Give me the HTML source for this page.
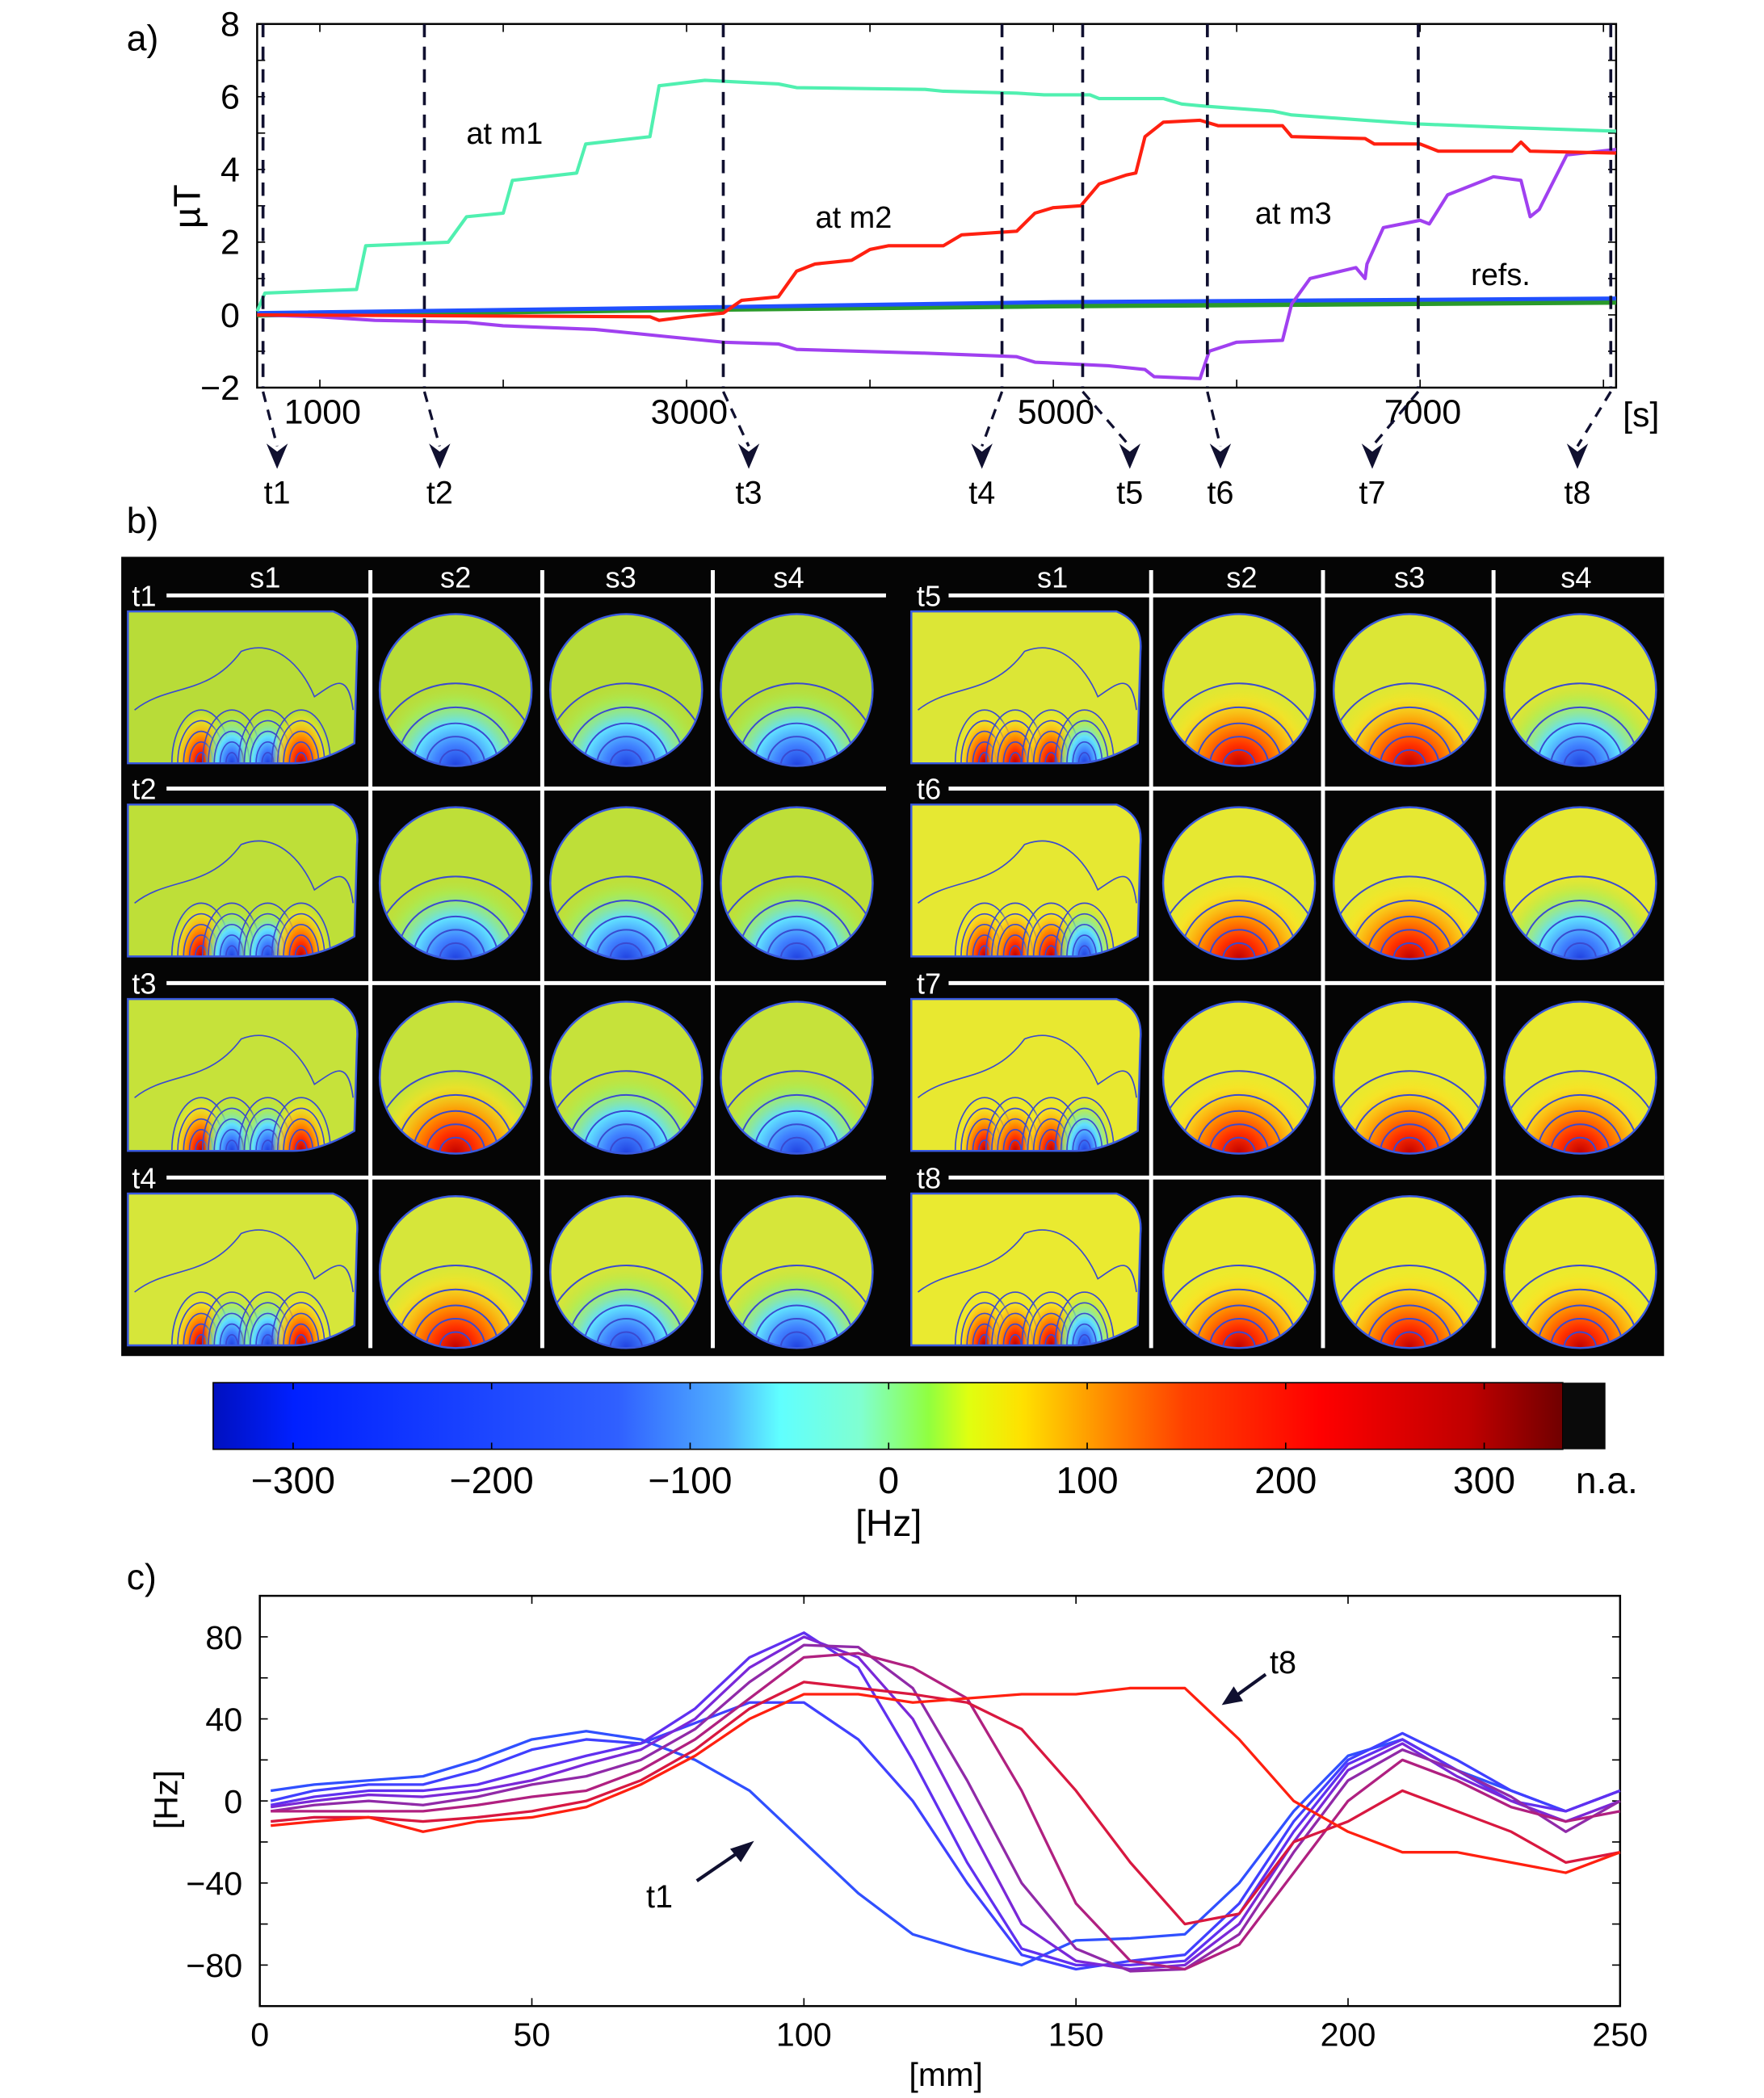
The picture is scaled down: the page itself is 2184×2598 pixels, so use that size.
<!DOCTYPE html>
<html><head><meta charset="utf-8"><style>
html,body{margin:0;padding:0;background:#fff;}
svg{display:block;font-family:"Liberation Sans",sans-serif;}
</style></head><body>
<svg id="fig" width="2184" height="2598" viewBox="0 0 1324 1575" xmlns="http://www.w3.org/2000/svg">
<defs>
<linearGradient id="cbar" x1="0" x2="1" y1="0" y2="0">
<stop offset="0" stop-color="#0010c0"/><stop offset="0.06" stop-color="#0020ff"/><stop offset="0.3" stop-color="#3060ff"/>
<stop offset="0.38" stop-color="#50b0ff"/><stop offset="0.42" stop-color="#60ffff"/><stop offset="0.48" stop-color="#80ffd0"/>
<stop offset="0.53" stop-color="#90ff40"/><stop offset="0.56" stop-color="#e0ff10"/><stop offset="0.6" stop-color="#ffe000"/>
<stop offset="0.67" stop-color="#ff8000"/><stop offset="0.72" stop-color="#ff4000"/><stop offset="0.82" stop-color="#ff0000"/>
<stop offset="0.93" stop-color="#c00000"/><stop offset="1" stop-color="#700000"/></linearGradient>
<radialGradient id="blueBlob" cx="0.5" cy="0.5" r="0.5"><stop offset="0" stop-color="#2040e0"/><stop offset="0.25" stop-color="#4080ff"/><stop offset="0.5" stop-color="#60e0ff"/><stop offset="0.8" stop-color="#a0f060" stop-opacity="0.6"/><stop offset="1" stop-color="#c0e040" stop-opacity="0"/></radialGradient>
<radialGradient id="redBlob" cx="0.5" cy="0.5" r="0.5"><stop offset="0" stop-color="#c00000"/><stop offset="0.25" stop-color="#ff3000"/><stop offset="0.5" stop-color="#ff9000"/><stop offset="0.8" stop-color="#ffe020" stop-opacity="0.6"/><stop offset="1" stop-color="#f0f020" stop-opacity="0"/></radialGradient>
</defs>
<g id="panelA"></g>
<g id="panelB"></g>
<g id="panelC"></g>
</svg>
<script>
// ---------- Panel a data ----------
const m1T=[658,700,1200,1250,1700,1800,2000,2050,2400,2450,2800,2850,3100,3500,3600,4300,4400,4800,4950,5200,5250,5600,5700,5800,6200,6300,6700,7000,7500,8069];
const m1V=[0.1,0.6,0.7,1.9,2.0,2.7,2.8,3.7,3.9,4.7,4.9,6.3,6.45,6.35,6.25,6.2,6.15,6.1,6.05,6.05,5.95,5.95,5.8,5.75,5.6,5.5,5.35,5.25,5.15,5.05];
const m2T=[658,2800,2850,3000,3200,3300,3500,3600,3700,3900,4000,4100,4400,4500,4800,4900,5000,5150,5250,5400,5450,5500,5600,5800,5900,6250,6300,6700,6750,7000,7100,7500,7550,7600,8069];
const m2V=[0,-0.05,-0.15,-0.05,0.05,0.4,0.5,1.2,1.4,1.5,1.8,1.9,1.9,2.2,2.3,2.8,2.95,3.0,3.6,3.85,3.9,4.9,5.3,5.35,5.2,5.2,4.9,4.85,4.7,4.7,4.5,4.5,4.75,4.5,4.45];
const m3T=[658,1000,1300,1800,2000,2500,2900,3200,3500,3600,4300,4800,4900,5300,5500,5550,5800,5850,6000,6250,6300,6400,6650,6700,6710,6800,7000,7050,7150,7400,7550,7600,7650,7800,8069];
const m3V=[0,-0.05,-0.15,-0.2,-0.3,-0.4,-0.6,-0.75,-0.8,-0.95,-1.05,-1.15,-1.3,-1.4,-1.5,-1.7,-1.75,-1.0,-0.75,-0.7,0.3,1.0,1.3,1.0,1.4,2.4,2.6,2.5,3.3,3.8,3.7,2.7,2.9,4.4,4.55];
const refBT=[658,3000,5000,8069];
const refBV=[0.05,0.2,0.35,0.45];
const refGT=[658,3000,5000,8069];
const refGV=[0.0,0.15,0.25,0.35];
const markTimes=[690,1570,3200,4720,5160,5840,6990,8040];
const markLabels=["t1","t2","t3","t4","t5","t6","t7","t8"];
const arrowX=[208,330,562,737,848,916,1030,1184];
const aYTicks=[-2,0,2,4,6,8];
const aXTicks=[1000,3000,5000,7000];
// ---------- Panel c data ----------
const cX=[2,10,20,30,40,50,60,70,80,90,100,110,120,130,140,150,160,170,180,190,200,210,220,230,240,250];
const cSeries=[
[5,8,10,12,20,30,34,30,20,5,-20,-45,-65,-73,-80,-68,-67,-65,-40,-5,22,30,15,5,-5,5],
[0,5,8,8,15,25,30,28,38,48,48,30,0,-40,-75,-82,-78,-75,-50,-10,20,33,20,5,-5,5],
[-2,2,5,5,8,15,22,28,45,70,82,65,20,-30,-72,-80,-80,-78,-55,-15,18,30,15,0,-5,5],
[-3,0,3,2,5,10,18,25,40,65,80,70,40,-10,-60,-78,-82,-80,-60,-20,15,28,12,0,-10,0],
[-5,-2,0,-2,2,8,12,20,35,58,76,75,55,10,-40,-72,-83,-82,-65,-25,10,25,15,2,-15,0],
[-5,-5,-5,-5,-2,2,5,15,30,50,70,72,65,50,5,-50,-78,-82,-70,-35,0,20,10,-3,-10,-5],
[-10,-8,-8,-10,-8,-5,0,10,25,45,58,55,52,48,35,5,-30,-60,-55,-20,-10,5,-5,-15,-30,-25],
[-12,-10,-8,-15,-10,-8,-3,8,22,40,52,52,48,50,52,52,55,55,30,0,-15,-25,-25,-30,-35,-25]];
const cColors=["#3050ff","#4040ff","#6030f0","#7a28d8","#902aa8","#b02080","#d81840","#ff2010"];
const cYTicks=[-80,-40,0,40,80];
const cXTicks=[0,50,100,150,200,250];
const cbTicks=[-300,-200,-100,0,100,200,300];

const NS="http://www.w3.org/2000/svg";
function mk(parent,tag,attrs,text){const e=document.createElementNS(NS,tag);for(const k in attrs)e.setAttribute(k,attrs[k]);if(text!==undefined)e.textContent=text;parent.appendChild(e);return e;}

// ===== Panel a =====
const A=document.getElementById('panelA');
const aL=193,aR=1213,aT=18,aB=291,t0=658,t1=8069;
function xa(t){return aL+(t-t0)/(t1-t0)*(aR-aL);}
function ya(v){return aB-(v+2)/10*(aB-aT);}
let e;
e=mk(A,'text',{x:95,y:38,'font-size':27},'a)');


e=mk(A,'rect',{x:aL,y:aT,width:aR-aL,height:aB-aT,fill:'none',stroke:'#000','stroke-width':1.5});


for(let v=-2;v<=8;v++){
  mk(A,'line',{x1:aL,x2:aL+6,y1:ya(v),y2:ya(v),stroke:'#000'});
  mk(A,'line',{x1:aR,x2:aR-6,y1:ya(v),y2:ya(v),stroke:'#000'});
}
aYTicks.forEach(v=>{e=mk(A,'text',{x:180,y:ya(v)+9,'font-size':26,'text-anchor':'end'},v<0?'\u2212'+(-v):String(v));

});
for(let t=1000;t<=8000;t+=1000){mk(A,'line',{x1:xa(t),x2:xa(t),y1:aB,y2:aB-6,stroke:'#000'});mk(A,'line',{x1:xa(t),x2:xa(t),y1:aT,y2:aT+6,stroke:'#000'});}
aXTicks.forEach(t=>{e=mk(A,'text',{x:xa(t)+2,y:318,'font-size':26,'text-anchor':'middle'},String(t));

});
e=mk(A,'text',{x:1218,y:320,'font-size':26},'[s]');


e=mk(A,'text',{x:0,y:0,'font-size':28,transform:'translate(150,155) rotate(-90)','text-anchor':'middle'},'\u00b5T');


function line(g,T,V,col,w,name){const d=T.map((t,i)=>(i?'L':'M')+xa(t).toFixed(1)+','+ya(V[i]).toFixed(1)).join('');
const p=mk(g,'path',{d:d,fill:'none',stroke:col,'stroke-width':w,'stroke-linejoin':'round'});

}
line(A,refGT,refGV,'#2a9a2a',4,'series-ref-green');
line(A,refBT,refBV,'#2050ff',3,'series-ref-blue');
line(A,m3T,m3V,'#a040f0',2.5,'series-m3');
line(A,m2T,m2V,'#ff2010',2.5,'series-m2');
line(A,m1T,m1V,'#50f0b0',2.5,'series-m1');
[['at m1',350,108],['at m2',612,171],['at m3',942,168],['refs.',1104,214]].forEach(a=>{e=mk(A,'text',{x:a[1],y:a[2],'font-size':23},a[0]);

});
markTimes.forEach((t,i)=>{const x=xa(t);
 e=mk(A,'line',{x1:x,x2:x,y1:aT,y2:aB,stroke:'#101030','stroke-width':2.2,'stroke-dasharray':'10,7'});
 
 
 const ax=arrowX[i];
 mk(A,'path',{d:`M${x},${aB+3} L${ax},335`,stroke:'#101030','stroke-width':2,'stroke-dasharray':'8,6',fill:'none'});
 e=mk(A,'path',{d:`M${ax-8},333 L${ax},352 L${ax+8},333 L${ax},339 Z`,fill:'#101030'});
 
 
 e=mk(A,'text',{x:ax,y:378,'font-size':24,'text-anchor':'middle'},markLabels[i]);
 
 
});

// ===== Panel b =====
const B=document.getElementById('panelB');
e=mk(B,'text',{x:95,y:400,'font-size':27},'b)');


e=mk(B,'rect',{x:91,y:418,width:1158,height:600,fill:'#050505'});


const halves=[{x0:91,s1:[96,270],cols:[342,470,598],seps:[278,407,535],lab:[199,342,466,592],hl:[125,665],fills:['#b8dc38','#bedf38','#c6e23a','#d6e63a'],labels:['t1','t2','t3','t4']},
{x0:680,s1:[684,858],cols:[930,1058,1186],seps:[864,993,1121],lab:[790,932,1058,1183],hl:[712,1249],fills:['#dce636','#e6e832','#e8e830','#eaea30'],labels:['t5','t6','t7','t8']}];
const rowsY=[447,592,738,884];
const blobKinds=[['b','b','b'],['b','b','b'],['r','b','b'],['r','b','b'],['r','r','b'],['r','r','b'],['r','r','r'],['r','r','r']];
halves.forEach((h,hi)=>{
 h.lab.forEach((lx,i)=>{e=mk(B,'text',{x:lx,y:441,'font-size':22,fill:'#fff','text-anchor':'middle'},'s'+(i+1));
 
 });
 h.seps.forEach(sx=>{mk(B,'line',{x1:sx,x2:sx,y1:428,y2:1012,stroke:'#fff','stroke-width':3});});
 rowsY.forEach((ry,ri)=>{
  mk(B,'line',{x1:h.hl[0],x2:h.hl[1],y1:ry,y2:ry,stroke:'#fff','stroke-width':3});
  e=mk(B,'text',{x:h.x0+8,y:ry+8,'font-size':22,fill:'#fff'},h.labels[ri]);
  
  
  const fill=h.fills[ri];const cy=ry+71;const kinds=blobKinds[hi*4+ri];
  const x1=h.s1[0],x2=h.s1[1],top=ry+12,bot=ry+126;
  const shape=`M${x1},${top} L${x2-20},${top} Q${x2},${top+8} ${x2-2},${top+30} L${x2-4},${bot-15} Q${x2-30},${bot} ${x2-50},${bot} L${x1},${bot} Z`;
  const sid='s1c'+hi+ri;
  const scp=mk(B,'clipPath',{id:sid});mk(scp,'path',{d:shape});
  const sg=mk(B,'g',{});
  
  
  mk(sg,'path',{d:shape,fill:fill});
  const inner=mk(sg,'g',{'clip-path':`url(#${sid})`});
  const bx=[x1+55,x1+78,x1+105,x1+130];
  const bk=hi?['r','r','r','b']:['r','b','b','r'];
  bx.forEach((xx,k)=>{mk(inner,'ellipse',{cx:xx,cy:bot,rx:22,ry:40,fill:bk[k]=='b'?'url(#blueBlob)':'url(#redBlob)'});
   for(let r=8;r<=40;r+=8)mk(inner,'path',{d:`M${xx-r*0.55},${bot} A${r*0.55},${r} 0 0 1 ${xx+r*0.55},${bot}`,fill:'none',stroke:'#3a4ad0','stroke-width':1});});
  mk(inner,'path',{d:`M${x1+5},${bot-40} C${x1+30},${bot-60} ${x1+60},${bot-50} ${x1+85},${top+30} C${x1+110},${top+20} ${x1+130},${top+40} ${x1+140},${bot-50} C${x1+155},${bot-60} ${x1+165},${bot-70} ${x2-5},${bot-40}`,fill:'none',stroke:'#3a4ad0','stroke-width':1});
  mk(sg,'path',{d:shape,fill:'none',stroke:'#3a5ae0','stroke-width':1.5});
  h.cols.forEach((cx,ci)=>{
   const g=mk(B,'g',{});
   
   
   mk(g,'circle',{cx:cx,cy:cy,r:57,fill:fill});
   const cid='c'+hi+ri+ci;
   const cp=mk(g,'clipPath',{id:cid});mk(cp,'circle',{cx:cx,cy:cy,r:57});
   const gg=mk(g,'g',{'clip-path':`url(#${cid})`});
   mk(gg,'ellipse',{cx:cx,cy:cy+57,rx:62,ry:62,fill:kinds[ci]=='b'?'url(#blueBlob)':'url(#redBlob)'});
   [12,22,32,44,62].forEach(r=>mk(gg,'circle',{cx:cx,cy:cy+57,r:r,fill:'none',stroke:'#3a4ad0','stroke-width':1.2}));
   mk(g,'circle',{cx:cx,cy:cy,r:57,fill:'none',stroke:'#3a5ae0','stroke-width':1.5});
  });
 });
});
// colorbar
e=mk(B,'rect',{x:160,y:1038,width:1013,height:50,fill:'url(#cbar)',stroke:'#000'});


e=mk(B,'rect',{x:1173,y:1038,width:32,height:50,fill:'#0a0a0a'});


function xcb(v){return 667+v*1.49;}
cbTicks.forEach(v=>{mk(B,'line',{x1:xcb(v),x2:xcb(v),y1:1038,y2:1043,stroke:'#000'});mk(B,'line',{x1:xcb(v),x2:xcb(v),y1:1088,y2:1083,stroke:'#000'});
 e=mk(B,'text',{x:xcb(v),y:1121,'font-size':28,'text-anchor':'middle'},v<0?'\u2212'+(-v):String(v));
 
 });
e=mk(B,'text',{x:1206,y:1121,'font-size':28,'text-anchor':'middle'},'n.a.');


e=mk(B,'text',{x:667,y:1153,'font-size':28,'text-anchor':'middle'},'[Hz]');



// ===== Panel c =====
const C=document.getElementById('panelC');
const cL=195,cR=1216,cT=1198,cB=1506;
function xc(v){return cL+v/250*(cR-cL);}
function yc(v){return cT+(100-v)/200*(cB-cT);}
e=mk(C,'text',{x:95,y:1193,'font-size':27},'c)');


e=mk(C,'rect',{x:cL,y:cT,width:cR-cL,height:cB-cT,fill:'none',stroke:'#000','stroke-width':1.5});


for(let v=-80;v<=80;v+=20){mk(C,'line',{x1:cL,x2:cL+6,y1:yc(v),y2:yc(v),stroke:'#000'});mk(C,'line',{x1:cR,x2:cR-6,y1:yc(v),y2:yc(v),stroke:'#000'});}
cYTicks.forEach(v=>{e=mk(C,'text',{x:182,y:yc(v)+9,'font-size':25,'text-anchor':'end'},v<0?'\u2212'+(-v):String(v));
 
 });
cXTicks.forEach(v=>{mk(C,'line',{x1:xc(v),x2:xc(v),y1:cB,y2:cB-6,stroke:'#000'});mk(C,'line',{x1:xc(v),x2:xc(v),y1:cT,y2:cT+6,stroke:'#000'});
 e=mk(C,'text',{x:xc(v),y:1536,'font-size':25,'text-anchor':'middle'},String(v));
 
 });
e=mk(C,'text',{x:710,y:1566,'font-size':25,'text-anchor':'middle'},'[mm]');


e=mk(C,'text',{x:0,y:0,'font-size':25,transform:'translate(133,1351) rotate(-90)','text-anchor':'middle'},'[Hz]');


cSeries.forEach((s,i)=>{const d=s.map((v,k)=>(k?'L':'M')+xc(cX[k]).toFixed(1)+','+yc(v).toFixed(1)).join('');
 e=mk(C,'path',{d:d,fill:'none',stroke:cColors[i],'stroke-width':2,'stroke-linejoin':'round'});
 
 });
e=mk(C,'path',{d:'M523,1412 L558,1388',stroke:'#101030','stroke-width':2.5});
mk(C,'path',{d:'M566,1382 L548,1388 L556,1398 Z',fill:'#101030'});
e=mk(C,'text',{x:485,y:1432,'font-size':24},'t1');


mk(C,'path',{d:'M950,1257 L925,1275',stroke:'#101030','stroke-width':2.5});
mk(C,'path',{d:'M917,1280 L926,1266 L933,1277 Z',fill:'#101030'});
e=mk(C,'text',{x:953,y:1256,'font-size':24},'t8');


</script>
</body></html>
